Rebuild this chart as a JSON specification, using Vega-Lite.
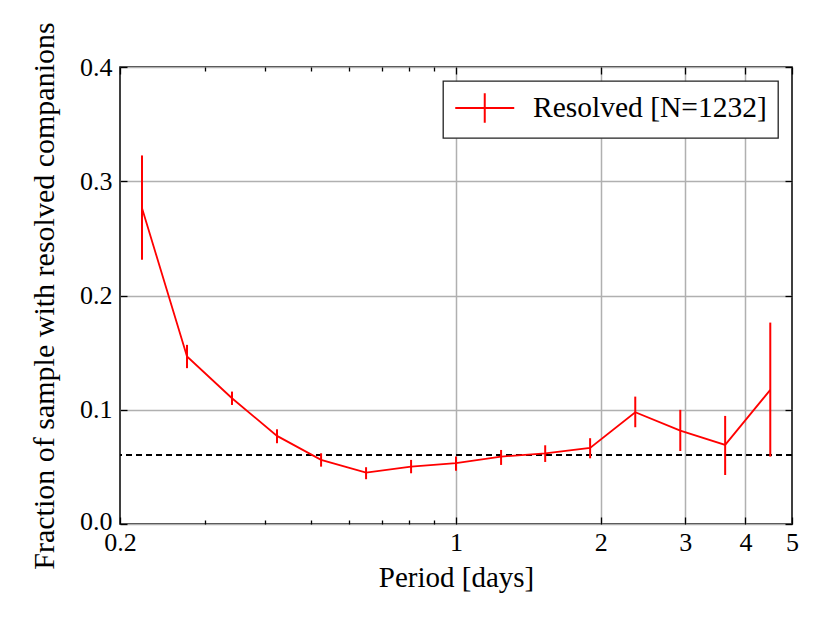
{
  "$schema": "https://vega.github.io/schema/vega-lite/v6.json",
  "width": 672,
  "height": 457,
  "autosize": {"type": "none"},
  "padding": {"left": 120, "top": 67, "right": 38, "bottom": 99},
  "config": {
    "font": "Liberation Serif, serif",
    "view": {"stroke": "#000", "strokeWidth": 1.5},
    "axis": {
      "domain": false,
      "tickColor": "#000",
      "tickWidth": 1.3,
      "labelColor": "#000",
      "labelFont": "Liberation Serif, serif",
      "labelFontSize": 26,
      "titleFont": "Liberation Serif, serif",
      "titleFontSize": 29,
      "titleFontWeight": "normal",
      "titleColor": "#000",
      "gridColor": "#b0b0b0",
      "gridWidth": 1.5
    },
    "legend": {
      "title": null,
      "orient": "top-right",
      "offset": 14,
      "padding": 11,
      "strokeColor": "#222",
      "strokeWidth": 1.3,
      "fillColor": "#fff",
      "symbolType": "M-1,0L3,0M1,-1L1,1",
      "symbolSize": 870,
      "symbolStrokeWidth": 2,
      "labelOffset": 47,
      "labelLimit": 0,
      "labelFont": "Liberation Serif, serif",
      "labelFontSize": 29.5,
      "labelColor": "#000"
    }
  },
  "data": {
    "values": [
      {"period": 0.2222, "frac": 0.2766, "lo": 0.2313, "hi": 0.3226, "series": "Resolved [N=1232]"},
      {"period": 0.2757, "frac": 0.1466, "lo": 0.1364, "hi": 0.1568, "series": "Resolved [N=1232]"},
      {"period": 0.342, "frac": 0.1101, "lo": 0.1042, "hi": 0.1159, "series": "Resolved [N=1232]"},
      {"period": 0.4243, "frac": 0.0771, "lo": 0.0707, "hi": 0.0829, "series": "Resolved [N=1232]"},
      {"period": 0.524, "frac": 0.0561, "lo": 0.0502, "hi": 0.0619, "series": "Resolved [N=1232]"},
      {"period": 0.65, "frac": 0.0449, "lo": 0.0392, "hi": 0.0497, "series": "Resolved [N=1232]"},
      {"period": 0.8064, "frac": 0.0502, "lo": 0.0444, "hi": 0.0561, "series": "Resolved [N=1232]"},
      {"period": 1.0, "frac": 0.0532, "lo": 0.0467, "hi": 0.059, "series": "Resolved [N=1232]"},
      {"period": 1.241, "frac": 0.059, "lo": 0.0517, "hi": 0.0648, "series": "Resolved [N=1232]"},
      {"period": 1.533, "frac": 0.0619, "lo": 0.0543, "hi": 0.0689, "series": "Resolved [N=1232]"},
      {"period": 1.901, "frac": 0.0666, "lo": 0.0575, "hi": 0.0751, "series": "Resolved [N=1232]"},
      {"period": 2.36, "frac": 0.0978, "lo": 0.0847, "hi": 0.1115, "series": "Resolved [N=1232]"},
      {"period": 2.928, "frac": 0.0817, "lo": 0.0639, "hi": 0.0999, "series": "Resolved [N=1232]"},
      {"period": 3.63, "frac": 0.0692, "lo": 0.0429, "hi": 0.0946, "series": "Resolved [N=1232]"},
      {"period": 4.506, "frac": 0.1174, "lo": 0.059, "hi": 0.1763, "series": "Resolved [N=1232]"}
    ]
  },
  "layer": [
    {
      "mark": {"type": "rule", "color": "#000", "strokeWidth": 1.8, "strokeDash": [6, 4]},
      "encoding": {
        "y": {"datum": 0.0605, "type": "quantitative", "axis": null}
      }
    },
    {
      "mark": {"type": "line", "color": "#ff0000", "strokeWidth": 1.8},
      "encoding": {
        "x": {
          "field": "period",
          "type": "quantitative",
          "scale": {"type": "log", "domain": [0.2, 5], "nice": false},
          "axis": {
            "orient": "bottom",
            "title": "Period [days]",
            "values": [0.2, 0.3, 0.4, 0.5, 0.6, 0.7, 0.8, 0.9, 1, 2, 3, 4, 5],
            "format": "~g",
            "labelExpr": "indexof([0.2, 1, 2, 3, 4, 5], datum.value) >= 0 ? datum.label : ''",
            "tickSize": {"condition": {"test": "indexof([0.2, 1, 2, 3, 4, 5], datum.value) >= 0", "value": -7}, "value": -4},
            "grid": true,
            "gridOpacity": {"condition": {"test": "indexof([1, 2, 3, 4], datum.value) >= 0", "value": 1}, "value": 0},
            "labelPadding": 12,
            "titlePadding": 5,
            "labelFlush": false,
            "labelOverlap": false
          }
        },
        "y": {
          "field": "frac",
          "type": "quantitative",
          "scale": {"domain": [0, 0.4], "nice": false},
          "axis": {
            "orient": "left",
            "title": "Fraction of sample with resolved companions",
            "titleFontSize": 30,
            "values": [0, 0.1, 0.2, 0.3, 0.4],
            "format": ".1f",
            "grid": true,
            "tickSize": -7,
            "labelPadding": 15,
            "labelOffset": {"condition": {"test": "datum.value === 0", "value": -3}, "value": 0},
            "titlePadding": 20,
            "labelFlush": false,
            "labelOverlap": false
          }
        }
      }
    },
    {
      "mark": {"type": "rule", "strokeWidth": 2},
      "encoding": {
        "x": {
          "field": "period",
          "type": "quantitative",
          "axis": {
            "orient": "top",
            "title": null,
            "labels": false,
            "grid": false,
            "values": [0.2, 0.3, 0.4, 0.5, 0.6, 0.7, 0.8, 0.9, 1, 2, 3, 4, 5],
            "tickSize": {"condition": {"test": "indexof([0.2, 1, 2, 3, 4, 5], datum.value) >= 0", "value": -7}, "value": -4}
          }
        },
        "y": {
          "field": "lo",
          "type": "quantitative",
          "axis": {
            "orient": "right",
            "title": null,
            "labels": false,
            "grid": false,
            "values": [0, 0.1, 0.2, 0.3, 0.4],
            "tickSize": -7
          }
        },
        "y2": {"field": "hi"},
        "color": {
          "field": "series",
          "type": "nominal",
          "scale": {"range": ["#ff0000"]}
        }
      }
    }
  ],
  "resolve": {"axis": {"x": "independent", "y": "independent"}}
}
